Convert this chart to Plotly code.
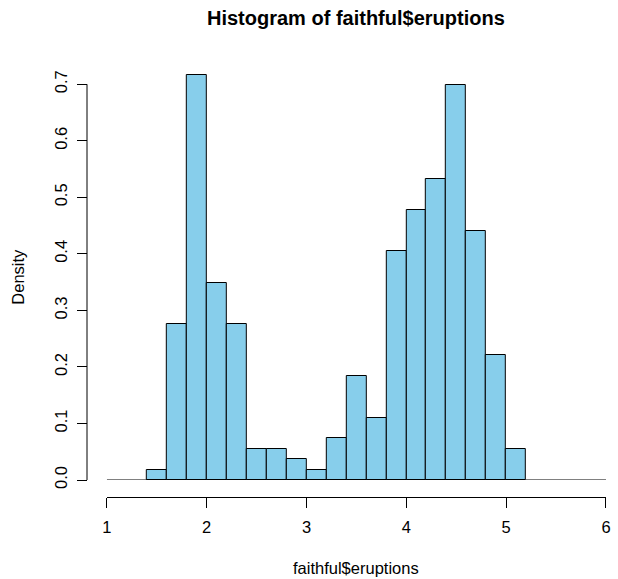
import plotly.graph_objects as go

# Data: histogram of faithful$eruptions, breaks every 0.2
breaks = [1.4, 1.6, 1.8, 2.0, 2.2, 2.4, 2.6, 2.8, 3.0, 3.2, 3.4, 3.6, 3.8, 4.0,
          4.2, 4.4, 4.6, 4.8, 5.0, 5.2]
counts = [1, 15, 39, 19, 15, 3, 3, 2, 1, 4, 10, 6, 22, 26, 29, 38, 24, 12, 3]
x_ticks = [1, 2, 3, 4, 5, 6]
y_ticks = [0.0, 0.1, 0.2, 0.3, 0.4, 0.5, 0.6, 0.7]
y_tick_labels = ["0.0", "0.1", "0.2", "0.3", "0.4", "0.5", "0.6", "0.7"]

n = sum(counts)
widths = [breaks[i + 1] - breaks[i] for i in range(len(counts))]
mids = [(breaks[i] + breaks[i + 1]) / 2 for i in range(len(counts))]
density = [c / (n * w) for c, w in zip(counts, widths)]

FONT = "Liberation Sans, Arial, Helvetica, sans-serif"
TS = 16.5

L, R, T, B = 87, 7, 56, 82
PW = 618 - L - R
PH = 579 - T - B

fig = go.Figure()
fig.add_trace(go.Bar(
    x=mids, y=density, width=widths,
    marker=dict(color="#87CEEB", line=dict(color="black", width=1)),
    hoverinfo="skip", showlegend=False,
))

fig.update_layout(
    width=618, height=579,
    margin=dict(l=L, r=R, t=T, b=B),
    paper_bgcolor="white", plot_bgcolor="white",
    font=dict(family=FONT, size=TS, color="black"),
    bargap=0,
    xaxis=dict(
        domain=[20 / PW, 1], range=[x_ticks[0], x_ticks[-1]],
        anchor="free", position=0,
        showline=True, linecolor="black", linewidth=1,
        ticks="outside", ticklen=10, tickcolor="black", tickwidth=1,
        tickvals=x_ticks, ticktext=[str(v) for v in x_ticks],
        ticklabelstandoff=5,
        showgrid=False, zeroline=False, tickfont=dict(size=TS),
    ),
    yaxis=dict(
        domain=[17 / PH, 1], range=[0, 0.75],
        anchor="free", position=0,
        showline=False,
        ticks="outside", ticklen=10, tickcolor="black", tickwidth=1,
        tickvals=y_ticks, ticktext=y_tick_labels, tickangle=-90,
        ticklabelstandoff=3,
        showgrid=False, zeroline=False, tickfont=dict(size=TS),
    ),
    shapes=[
        # y axis line from first to last tick
        dict(type="line", xref="paper", yref="y", x0=0, x1=0,
             y0=y_ticks[0], y1=y_ticks[-1], line=dict(color="black", width=1)),
        # baseline at density 0
        dict(type="line", xref="x", yref="y", x0=x_ticks[0], x1=x_ticks[-1],
             y0=0, y1=0, line=dict(color="black", width=1)),
    ],
    annotations=[
        dict(text="<b>Histogram of faithful$eruptions</b>", xref="paper", yref="paper",
             x=(359 - L) / PW, y=(579 - B - 18) / PH, showarrow=False,
             font=dict(size=20), xanchor="center", yanchor="middle"),
        dict(text="faithful$eruptions", xref="paper", yref="paper",
             x=(359 - L) / PW, y=(579 - B - 568) / PH, showarrow=False,
             font=dict(size=TS), xanchor="center", yanchor="middle"),
        dict(text="Density", xref="paper", yref="paper",
             x=(17 - L) / PW, y=(579 - B - 277) / PH, showarrow=False,
             font=dict(size=TS), textangle=-90, xanchor="center", yanchor="middle"),
    ],
)

fig.write_html("out.html")
